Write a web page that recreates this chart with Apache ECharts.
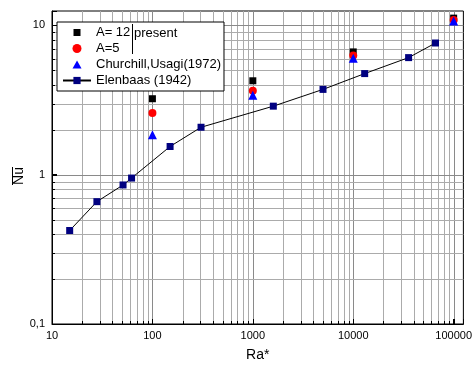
<!DOCTYPE html>
<html><head><meta charset="utf-8">
<script src="https://cdn.jsdelivr.net/npm/echarts@6/dist/echarts.min.js"></script>
<style>html,body{margin:0;padding:0;background:#fff}#c{width:475px;height:367px}</style>
</head><body><div id="c"></div>
<script>
// Data
const presentRa = [100, 1000, 10000, 100000];
const nuA12 = [3.23, 4.26, 6.65, 11.2];
const nuA5 = [2.59, 3.65, 6.28, 10.9];
const churchillRa = [100, 1000, 10000, 100000];
const churchillNu = [1.85, 3.41, 6.03, 10.7];
const elenbaasRa = [15, 28, 51, 62, 150, 305, 1600, 5000, 13000, 35600, 66000];
const elenbaasNu = [0.423, 0.66, 0.854, 0.95, 1.546, 2.08, 2.88, 3.73, 4.76, 6.09, 7.63];
const xTickLabels = ['10', '100', '1000', '10000', '100000'];
const yTickLabels = ['0,1', '1', '10'];

// grid lines (styling helpers)
const xMajor = [100, 1000, 10000, 100000];
const yMajor = [1, 10];
const xMinor = [], yMinor = [];
[10, 100, 1000, 10000].forEach(d => { for (let k = 2; k <= 9; k++) xMinor.push(k * d); });
[0.1, 1].forEach(d => { for (let k = 2; k <= 9; k++) yMinor.push(+(k * d).toFixed(2)); });

const gridData = [];
xMajor.forEach(v => gridData.push([v, 1, 0, 1]));
xMinor.forEach(v => gridData.push([v, 1, 0, 0]));
yMajor.forEach(v => gridData.push([100, v, 1, 1]));
yMinor.forEach(v => gridData.push([100, v, 1, 0]));

const font = 'Liberation Sans, Arial, sans-serif';
const chart = echarts.init(document.getElementById('c'), null, {renderer: 'canvas'});

function isPow10(v) { const l = Math.log10(v); return Math.abs(l - Math.round(l)) < 1e-6; }

// legend icons padded to the 28x9 legend item box
const iconSquare = 'path://M0,0M28,9M10.5,1L17.5,1L17.5,8L10.5,8Z';
const iconTriangle = 'path://M0,0M28,9M14,0.5L18.5,8.5L9.5,8.5Z';

chart.setOption({
  animation: false,
  backgroundColor: '#fff',
  grid: {left: 52, right: 9, top: 11, bottom: 41, show: true, borderColor: '#000', borderWidth: 1, backgroundColor: 'transparent'},
  xAxis: {
    type: 'log', logBase: 10, min: 10, max: 125000,
    name: 'Ra*', nameLocation: 'middle', nameGap: 24,
    nameTextStyle: {fontSize: 14, fontFamily: font, color: '#000'},
    axisLine: {lineStyle: {color: '#000', width: 1}},
    axisTick: {inside: true, length: 5, lineStyle: {color: '#000'}},
    splitLine: {show: false},
    axisLabel: {fontSize: 11, fontFamily: font, color: '#000', margin: 6,
      formatter: v => isPow10(v) ? xTickLabels[Math.round(Math.log10(v)) - 1] : ''}
  },
  yAxis: {
    type: 'log', logBase: 10, min: 0.1, max: 12.5,
    axisLine: {lineStyle: {color: '#000', width: 1}},
    axisTick: {inside: true, length: 5, lineStyle: {color: '#000'}},
    splitLine: {show: false},
    axisLabel: {fontSize: 11, fontFamily: font, color: '#000', margin: 7,
      formatter: v => isPow10(v) ? yTickLabels[Math.round(Math.log10(v)) + 1] : ''}
  },
  legend: {
    orient: 'vertical', left: 57, top: 22, padding: [4, 3, 4, 5], itemGap: 3,
    itemWidth: 28, itemHeight: 9,
    backgroundColor: '#fff', borderColor: '#000', borderWidth: 1, borderRadius: 0,
    textStyle: {fontSize: 13, fontFamily: font, color: '#000'},
    data: [
      {name: 'A= 12', icon: iconSquare},
      {name: 'A=5', icon: 'circle'},
      {name: 'Churchill,Usagi(1972)', icon: iconTriangle},
      {name: 'Elenbaas (1942)'}
    ]
  },
  graphic: [
    {type: 'line', z: 200, shape: {x1: 132.5, y1: 24, x2: 132.5, y2: 54}, style: {stroke: '#000', lineWidth: 1}},
    {type: 'text', z: 200, x: 134, y: 33, style: {text: 'present', font: '13px ' + font, fill: '#000', textVerticalAlign: 'middle'}},
    {type: 'text', z: 200, x: 19, y: 176, rotation: Math.PI / 2, style: {text: 'Nu', font: '14px ' + font, fill: '#000', textAlign: 'center', textVerticalAlign: 'middle'}},
    {type: 'line', z: 200, shape: {x1: 12.5, y1: 167, x2: 12.5, y2: 185}, style: {stroke: '#000', lineWidth: 1}}
  ],
  series: [
    {
      type: 'custom', silent: true, z: 0, clip: false,
      data: gridData,
      renderItem: function (params, api) {
        const cs = params.coordSys;
        const kind = api.value(2), major = api.value(3);
        const color = major ? '#8a8a8a' : '#ababab';
        const tl = major ? 5 : 3;
        if (kind === 0) {
          const p = api.coord([api.value(0), 1]);
          const x = Math.round(p[0]) + 0.5;
          return {type: 'group', children: [
            {type: 'line', shape: {x1: x, y1: cs.y, x2: x, y2: cs.y + cs.height}, style: {stroke: color, lineWidth: 1}},
            {type: 'line', shape: {x1: x, y1: cs.y + cs.height - tl, x2: x, y2: cs.y + cs.height}, style: {stroke: '#000', lineWidth: 1}}
          ]};
        } else {
          const p = api.coord([100, api.value(1)]);
          const y = Math.round(p[1]) + 0.5;
          return {type: 'group', children: [
            {type: 'line', shape: {x1: cs.x, y1: y, x2: cs.x + cs.width, y2: y}, style: {stroke: color, lineWidth: 1}},
            {type: 'line', shape: {x1: cs.x, y1: y, x2: cs.x + tl, y2: y}, style: {stroke: '#000', lineWidth: 1}}
          ]};
        }
      }
    },
    {
      name: 'A= 12', type: 'scatter', symbol: 'rect', symbolSize: 7, z: 3,
      itemStyle: {color: '#000', opacity: 1},
      data: presentRa.map((x, i) => [x, nuA12[i]])
    },
    {
      name: 'A=5', type: 'scatter', symbol: 'circle', symbolSize: 8, z: 4,
      itemStyle: {color: '#ff0000', opacity: 1},
      data: presentRa.map((x, i) => [x, nuA5[i]])
    },
    {
      name: 'Churchill,Usagi(1972)', type: 'scatter', symbol: 'triangle', symbolSize: 9, z: 5,
      itemStyle: {color: '#0000ff', opacity: 1},
      data: churchillRa.map((x, i) => [x, churchillNu[i]])
    },
    {
      name: 'Elenbaas (1942)', type: 'line', symbol: 'rect', symbolSize: 7, z: 3,
      lineStyle: {color: '#000', width: 1},
      itemStyle: {color: '#000080'},
      data: elenbaasRa.map((x, i) => [x, elenbaasNu[i]])
    }
  ]
});
</script></body></html>
